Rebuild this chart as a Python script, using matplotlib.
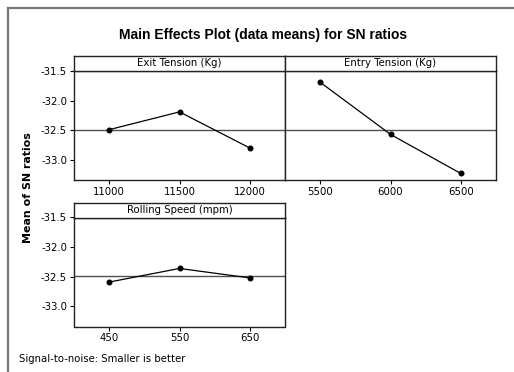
import numpy as np
import matplotlib
matplotlib.use('Agg')
import matplotlib.pyplot as plt
from matplotlib.lines import Line2D

# factor levels and mean SN ratios
exit_levels = ['11000', '11500', '12000']
exit_sn = [-32.49, -32.19, -32.80]
entry_levels = ['5500', '6000', '6500']
entry_sn = [-31.69, -32.57, -33.23]
speed_levels = ['450', '550', '650']
speed_sn = [-32.59, -32.36, -32.52]

titles = ['Exit Tension (Kg)', 'Entry Tension (Kg)', 'Rolling Speed (mpm)']
yticks = [-31.5, -32.0, -32.5, -33.0]
ytick_labels = ['-31.5', '-32.0', '-32.5', '-33.0']

grand_mean = np.mean(exit_sn + entry_sn + speed_sn)

plt.rcParams['font.family'] = 'DejaVu Sans'
fig = plt.figure(figsize=(5.14, 3.72), dpi=100)
W, H = 514.0, 372.0

def box(x0, y_top, x1, y_bot):
    return [x0 / W, 1 - y_bot / H, (x1 - x0) / W, (y_bot - y_top) / H]

panels = [
    (box(74, 71, 285, 180), box(74, 56, 285, 71), exit_levels, exit_sn, titles[0], True),
    (box(285, 71, 496, 180), box(285, 56, 496, 71), entry_levels, entry_sn, titles[1], False),
    (box(74, 217.5, 285, 326.5), box(74, 203, 285, 217.5), speed_levels, speed_sn, titles[2], True),
]

for rect, srect, levels, sn, title, show_y in panels:
    ax = fig.add_axes(rect)
    x = np.arange(len(levels))
    ax.axhline(grand_mean, color='#505050', lw=1.0, zorder=1)
    ax.plot(x, sn, color='black', lw=0.9, marker='o', ms=3.3, zorder=3)
    ax.set_xlim(-0.5, len(levels) - 0.5)
    ax.set_ylim(-33.34, -31.5)
    ax.set_xticks(x)
    ax.set_xticklabels(levels, fontsize=7.3)
    ax.tick_params(axis='x', direction='out', length=3, width=0.8, pad=2)
    if show_y:
        ax.set_yticks(yticks)
        ax.set_yticklabels(ytick_labels, fontsize=7.3)
        ax.tick_params(axis='y', direction='out', length=3, width=0.8, pad=2)
    else:
        ax.set_yticks([])
    for s in ax.spines.values():
        s.set_linewidth(1.0)
        s.set_color('#222222')
    ax.spines['top'].set_color('#555555')

    sax = fig.add_axes(srect)
    sax.set_xticks([])
    sax.set_yticks([])
    for s in sax.spines.values():
        s.set_linewidth(1.0)
        s.set_color('#222222')
    sax.text(0.5, 0.5, title, ha='center', va='center', fontsize=7.3,
             transform=sax.transAxes)

fig.text(263 / W, 1 - 35 / H, 'Main Effects Plot (data means) for SN ratios',
         ha='center', va='center', fontsize=10, fontweight='bold',
         family='Liberation Sans')
fig.text(28 / W, 1 - 188 / H, 'Mean of SN ratios', rotation=90,
         ha='center', va='center', fontsize=7.9, fontweight='bold')
fig.text(19 / W, 1 - 359 / H, 'Signal-to-noise: Smaller is better',
         ha='left', va='center', fontsize=7.3)

# outer frame (left and top edges only, the rest is cropped)
fig.add_artist(Line2D([7.5 / W, 7.5 / W], [0, 1 - 7.5 / H], color='#777777',
                      lw=1.6, transform=fig.transFigure))
fig.add_artist(Line2D([7.5 / W, 1], [1 - 7.5 / H, 1 - 7.5 / H], color='#777777',
                      lw=1.6, transform=fig.transFigure))

fig.savefig('out.png', dpi=100)
